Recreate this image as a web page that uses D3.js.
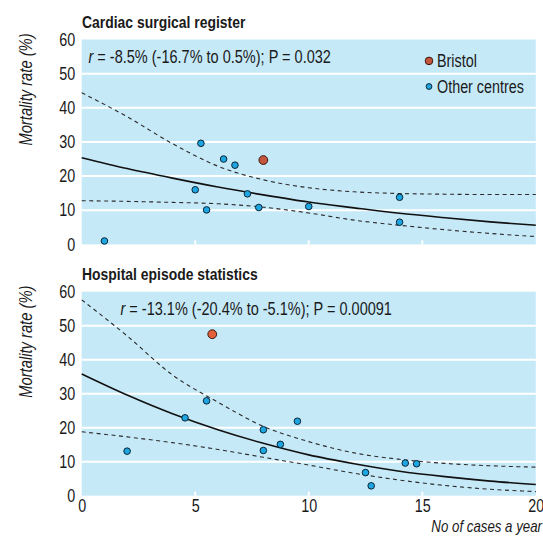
<!DOCTYPE html>
<html>
<head>
<meta charset="utf-8">
<script src="https://cdn.jsdelivr.net/npm/d3@7"></script>
<style>
  html, body { margin: 0; padding: 0; background: #ffffff; }
  svg { display: block; }
  text { font-family: "Liberation Sans", Arial, sans-serif; fill: #1a1a1a; }
</style>
</head>
<body>
<svg id="chart" width="543" height="538"></svg>
<script>
// ---------- data ----------
const xTicks = [0, 5, 10, 15, 20];
const yTicks = [0, 10, 20, 30, 40, 50, 60];
const gridValues = [10, 20, 30, 40, 50];
const curveX = [0, 2, 4, 6, 8, 10, 12, 14, 16, 18, 20];

// Panel 1: Cardiac surgical register
const topTitle = "Cardiac surgical register";
const topStat = "= -8.5% (-16.7% to 0.5%); P = 0.032";
const topOtherX = [1.0, 5.25, 5.0, 5.5, 6.25, 6.75, 7.3, 7.8, 10.0, 14.0, 14.0];
const topOtherY = [1.0, 29.6, 16.0, 10.1, 25.0, 23.2, 14.8, 10.8, 11.1, 13.8, 6.5];
const topBristol = [8.0, 24.7];
const topFit   = [25.4, 22.2, 19.4, 16.8, 14.5, 12.4, 10.7, 9.1, 7.8, 6.6, 5.6];
const topUpper = [44.4, 37.4, 29.5, 22.9, 18.9, 16.6, 15.4, 14.9, 14.7, 14.6, 14.6];
const topLower = [12.8, 12.6, 12.3, 11.9, 10.9, 9.2, 7.1, 5.6, 4.3, 3.2, 2.3];

// Panel 2: Hospital episode statistics
const botTitle = "Hospital episode statistics";
const botStat = "= -13.1% (-20.4% to -5.1%); P = 0.00091";
const botOtherX = [2.0, 4.55, 5.5, 8.0, 8.0, 8.75, 9.5, 12.5, 12.75, 14.25, 14.75];
const botOtherY = [13.1, 22.9, 27.9, 19.4, 13.3, 15.1, 21.9, 6.8, 2.9, 9.6, 9.4];
const botBristol = [5.75, 47.5];
const botFit   = [35.8, 29.6, 24.1, 19.4, 15.4, 12.0, 9.4, 7.2, 5.6, 4.3, 3.3];
const botUpper = [57.6, 47.0, 35.5, 27.5, 20.4, 15.9, 12.6, 10.7, 9.5, 8.8, 8.4];
const botLower = [18.8, 17.3, 15.6, 13.6, 11.3, 9.0, 6.6, 4.6, 3.0, 1.9, 1.2];

const legendLabels = ["Bristol", "Other centres"];
const yAxisTitle = "Mortality rate (%)";
const xAxisTitle = "No of cases a year";

// ---------- layout ----------
const svg = d3.select("#chart");
const NARROW = 0.82;
const plotLeft = 81.7, plotRight = 535.8;
const panels = [
  { top: 39.5, bottom: 244.4, title: topTitle, stat: topStat, statX: 88.5,
    ox: topOtherX, oy: topOtherY, bristol: topBristol, bristolFill: "#c4563b",
    fit: topFit, upper: topUpper, lower: topLower, legend: true, xLabels: false },
  { top: 291.7, bottom: 495.7, title: botTitle, stat: botStat, statX: 120.5,
    ox: botOtherX, oy: botOtherY, bristol: botBristol, bristolFill: "#e3603d",
    fit: botFit, upper: botUpper, lower: botLower, legend: false, xLabels: true }
];

// narrow text placed at (tx, ty)
function ntext(tx, ty, str, opts = {}) {
  const t = svg.append("text")
    .attr("transform", `translate(${tx},${ty}) ${opts.rotate ? "rotate(" + opts.rotate + ")" : ""} scale(${NARROW},1)`)
    .attr("text-anchor", opts.anchor || "start")
    .style("font-size", (opts.size || 17) + "px");
  if (opts.bold) t.style("font-weight", "bold");
  if (opts.italic) t.style("font-style", "italic");
  if (str !== null) t.text(str);
  return t;
}

const x = d3.scaleLinear().domain([0, 20]).range([plotLeft, plotRight]);
const bg = "#c6e9f8";
const pointFill = "#1ea6e3";
const pointStroke = "#0b2533";

panels.forEach(p => {
  const y = d3.scaleLinear().domain([0, 60]).range([p.bottom, p.top]);
  const g = svg.append("g");

  g.append("rect")
    .attr("x", plotLeft).attr("y", p.top)
    .attr("width", plotRight - plotLeft).attr("height", p.bottom - p.top)
    .attr("fill", bg);

  // grid
  g.selectAll("line.grid").data(gridValues).enter().append("line")
    .attr("x1", plotLeft).attr("x2", plotRight)
    .attr("y1", d => y(d)).attr("y2", d => y(d))
    .attr("stroke", "#ffffff").attr("stroke-width", 2);

  // small white ticks at bottom
  g.selectAll("line.xt").data(xTicks.slice(1, 4)).enter().append("line")
    .attr("x1", d => x(d)).attr("x2", d => x(d))
    .attr("y1", p.bottom).attr("y2", p.bottom - 4)
    .attr("stroke", "#ffffff").attr("stroke-width", 2);

  // y axis labels
  const yAxis = d3.axisLeft(y).tickValues(yTicks).tickSize(0).tickPadding(0);
  const ya = g.append("g").attr("transform", `translate(${plotLeft - 6.5},0)`).call(yAxis);
  ya.select(".domain").remove();
  ya.selectAll("text").style("font-size", "17.5px").attr("fill", "#1a1a1a")
    .attr("x", 0).attr("transform", `scale(${NARROW},1)`)
    .style("font-family", '"Liberation Sans", Arial, sans-serif');

  if (p.xLabels) {
    const xAxis = d3.axisBottom(x).tickValues(xTicks).tickSize(0).tickPadding(4);
    const xa = g.append("g").attr("transform", `translate(0,${p.bottom})`).call(xAxis);
    xa.select(".domain").remove();
    xa.selectAll("text").style("font-size", "17.5px").attr("fill", "#1a1a1a")
      .attr("transform", `scale(${NARROW},1)`)
      .style("font-family", '"Liberation Sans", Arial, sans-serif');
  }

  // curves
  const line = d3.line().x(d => x(d[0])).y(d => y(d[1])).curve(d3.curveMonotoneX);
  const toPts = arr => curveX.map((v, i) => [v, arr[i]]);
  g.append("path").attr("d", line(toPts(p.upper)))
    .attr("fill", "none").attr("stroke", "#2a2a2a").attr("stroke-width", 1.1)
    .attr("stroke-dasharray", "4,3.5");
  g.append("path").attr("d", line(toPts(p.lower)))
    .attr("fill", "none").attr("stroke", "#2a2a2a").attr("stroke-width", 1.1)
    .attr("stroke-dasharray", "4,3.5");
  g.append("path").attr("d", line(toPts(p.fit)))
    .attr("fill", "none").attr("stroke", "#111111").attr("stroke-width", 1.6);

  // points
  g.selectAll("circle.o").data(p.ox.map((v, i) => [v, p.oy[i]])).enter().append("circle")
    .attr("cx", d => x(d[0])).attr("cy", d => y(d[1])).attr("r", 3.3)
    .attr("fill", pointFill).attr("stroke", pointStroke).attr("stroke-width", 1);
  g.append("circle")
    .attr("cx", x(p.bristol[0])).attr("cy", y(p.bristol[1])).attr("r", 4.4)
    .attr("fill", p.bristolFill).attr("stroke", "#3a1a10").attr("stroke-width", 1);

  // title
  ntext(82, p.top - 11.5, p.title, { size: 17, bold: true });

  // stat text
  const st = ntext(p.statX, p.top + 23, null, { size: 17.7 });
  st.append("tspan").style("font-style", "italic").text("r");
  st.append("tspan").text(" " + p.stat);

  // y axis title
  ntext(32, p.top + 50, yAxisTitle, { size: 18, italic: true, anchor: "middle", rotate: -90 });

  if (p.legend) {
    const lg = svg.append("g");
    lg.append("circle").attr("cx", 429).attr("cy", 60.9).attr("r", 3.8)
      .attr("fill", p.bristolFill).attr("stroke", "#3a1a10").attr("stroke-width", 1);
    lg.append("circle").attr("cx", 429).attr("cy", 86.5).attr("r", 2.9)
      .attr("fill", pointFill).attr("stroke", pointStroke).attr("stroke-width", 1);
    ntext(437, 67, legendLabels[0], { size: 17.5 });
    ntext(437, 92.7, legendLabels[1], { size: 17.5 });
  }
});

ntext(542, 532, xAxisTitle, { size: 16.2, italic: true, anchor: "end" });
</script>
</body>
</html>
